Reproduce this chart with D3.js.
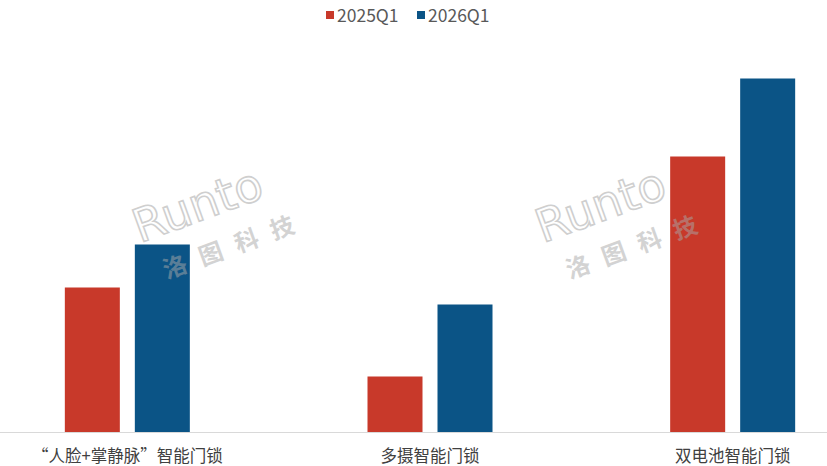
<!DOCTYPE html>
<html><head><meta charset="utf-8">
<script src="https://cdn.jsdelivr.net/npm/d3@7/dist/d3.min.js"></script>
<style>body{margin:0;background:#fff}svg{display:block}</style>
</head><body><div id="chart"></div>
<script>
const categories = ["“人脸+掌静脉”智能门锁", "多摄智能门锁", "双电池智能门锁"];
const seriesNames = ["2025Q1", "2026Q1"];
const values2025 = [14.5, 5.6, 27.6];
const values2026 = [18.8, 12.8, 35.4];
const colors = ["#C8392A", "#0B5486"];

const W = 827, H = 466;
const svg = d3.select("#chart").append("svg").attr("width", W).attr("height", H);
const font = "'Noto Sans CJK SC', 'Noto Sans', sans-serif";
const base = 432.5;

const x = d3.scaleBand().domain(categories).range([-24, 884]).paddingInner(0).paddingOuter(0);
const outer = (x.bandwidth() - 125) / 2;
const x1 = d3.scaleBand().domain(seriesNames).range([outer, outer + 125]).paddingInner(15 / 70).paddingOuter(0);
const y = d3.scaleLinear().domain([0, 40]).range([base, 32.5]);

const data = categories.map((c, i) => ({c, vals: [values2025[i], values2026[i]]}));
const groups = svg.append("g").selectAll("g").data(data).join("g")
  .attr("transform", d => `translate(${x(d.c)},0)`);
groups.selectAll("rect").data(d => d.vals.map((v, j) => ({v, s: seriesNames[j], j}))).join("rect")
  .attr("x", d => x1(d.s)).attr("width", x1.bandwidth())
  .attr("y", d => y(d.v)).attr("height", d => base - y(d.v))
  .attr("fill", d => colors[d.j]);

svg.append("line").attr("x1", 0).attr("x2", W).attr("y1", base).attr("y2", base)
  .attr("stroke", "#d9d9d9").attr("stroke-width", 1);

// watermark
[[212, 222], [615, 222]].forEach(([cx, cy]) => {
  const g = svg.append("g").attr("transform", `translate(${cx},${cy}) rotate(-20)`).attr("opacity", 0.5);
  g.append("text").attr("x", -75).attr("y", -5).attr("font-family", "'DejaVu Sans', sans-serif")
    .attr("font-size", 46).attr("fill", "none").attr("stroke", "#a0a0a0").attr("stroke-width", 1.6).text("Runto");
  g.append("text").attr("x", -62).attr("y", 38).attr("font-family", font).attr("font-weight", "bold")
    .attr("font-size", 24).attr("letter-spacing", 14).attr("fill", "#a8a8a8").text("洛图科技");
});

svg.append("g").selectAll("text").data(categories).join("text")
  .attr("x", d => x(d) + x.bandwidth() / 2).attr("y", 462)
  .attr("text-anchor", "middle").attr("font-family", font).attr("font-size", 16.5)
  .attr("fill", "#404040").text(d => d);

// legend
const legend = svg.append("g");
const legendX = [326, 417];
seriesNames.forEach((s, i) => {
  legend.append("rect").attr("x", legendX[i]).attr("y", 11).attr("width", 8).attr("height", 8).attr("fill", colors[i]);
  legend.append("text").attr("x", legendX[i] + 11).attr("y", 21.5).attr("font-family", font)
    .attr("font-size", 17.5).attr("fill", "#595959").text(s);
});
</script></body></html>
